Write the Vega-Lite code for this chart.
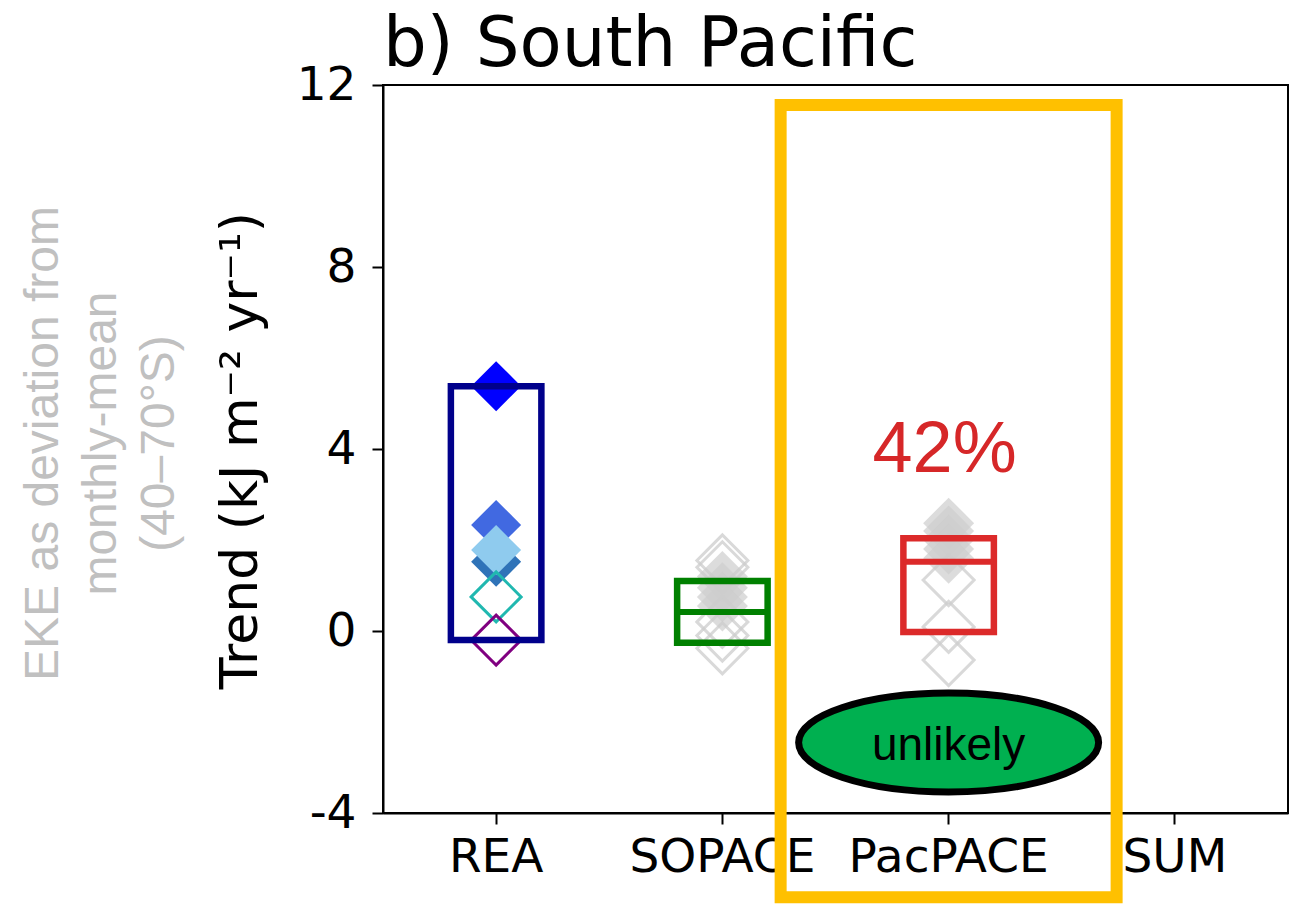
{
  "$schema": "https://vega.github.io/schema/vega-lite/v6.json",
  "width": 905,
  "height": 728,
  "autosize": {"type": "none"},
  "padding": {"left": 383, "top": 85, "right": 3, "bottom": 92},
  "background": "white",
  "config": {
    "view": {"stroke": "black", "strokeWidth": 2},
    "font": "DejaVu Sans",
    "axis": {
      "domainColor": "black", "domainWidth": 2, "tickColor": "black", "tickWidth": 2, "tickSize": 11,
      "labelFont": "DejaVu Sans", "labelFontSize": 47, "labelColor": "black", "grid": false,
      "titleFont": "DejaVu Sans", "titleFontWeight": "normal", "titleColor": "black",
      "labelLimit": 0, "labelOverlap": false
    },
    "axisX": {"labelAngle": 0, "labelPadding": 10}
  },
  "title": {
    "text": "b) South Pacific", "anchor": "start", "frame": "group", "fontSize": 69,
    "font": "DejaVu Sans", "fontWeight": "normal", "color": "black", "baseline": "alphabetic", "offset": 0, "dy": 74
  },
  "datasets": {
    "members": [
      {"experiment": "SOPACE", "member": "S01", "trend": 1.55},
      {"experiment": "SOPACE", "member": "S02", "trend": 1.4},
      {"experiment": "SOPACE", "member": "S03", "trend": 1.2},
      {"experiment": "SOPACE", "member": "S04", "trend": 0.95},
      {"experiment": "SOPACE", "member": "S05", "trend": 0.75},
      {"experiment": "SOPACE", "member": "S06", "trend": 0.55},
      {"experiment": "SOPACE", "member": "S07", "trend": 0.2},
      {"experiment": "SOPACE", "member": "S08", "trend": -0.1},
      {"experiment": "SOPACE", "member": "S09", "trend": -0.38},
      {"experiment": "PacPACE", "member": "P01", "trend": 2.37},
      {"experiment": "PacPACE", "member": "P02", "trend": 2.2},
      {"experiment": "PacPACE", "member": "P03", "trend": 2.0},
      {"experiment": "PacPACE", "member": "P04", "trend": 1.8},
      {"experiment": "PacPACE", "member": "P05", "trend": 1.6},
      {"experiment": "PacPACE", "member": "P06", "trend": 1.12},
      {"experiment": "PacPACE", "member": "P07", "trend": 0.09},
      {"experiment": "PacPACE", "member": "P08", "trend": -0.64},
      {"experiment": "REA", "member": "R1", "trend": 5.38},
      {"experiment": "REA", "member": "R2", "trend": 2.33},
      {"experiment": "REA", "member": "R3", "trend": 1.52},
      {"experiment": "REA", "member": "R4", "trend": 1.78},
      {"experiment": "REA", "member": "R5", "trend": 0.75},
      {"experiment": "REA", "member": "R6", "trend": -0.2}
    ],
    "boxes": [
      {"experiment": "REA", "low": -0.2, "high": 5.38, "median": null},
      {"experiment": "SOPACE", "low": -0.26, "high": 1.1, "median": 0.42},
      {"experiment": "PacPACE", "low": -0.02, "high": 2.04, "median": 1.52}
    ],
    "highlight": [
      {"experiment": "PacPACE", "top": 11.56, "bottom": -5.85, "likelihood": "unlikely", "centre": -2.45, "textline": -2.835, "share": "42%", "shareline": 3.49}
    ]
  },
  "resolve": {"scale": {"y": "independent"}, "axis": {"y": "independent"}},
  "layer": [
    {
      "encoding": {
        "x": {"field": "experiment", "type": "nominal", "scale": {"domain": ["REA", "SOPACE", "PacPACE", "SUM"], "paddingInner": 0, "paddingOuter": 0}, "title": null},
        "y": {
          "field": "trend", "type": "quantitative", "scale": {"domain": [-4, 12], "nice": false},
          "title": "Trend (kJ m⁻² yr⁻¹)",
          "axis": {
            "values": [-4, 0, 4, 8, 12], "labelExpr": "'' + datum.value", "labelPadding": 16, "titleFontSize": 52,
            "titleX": -143, "titleY": 365, "titleAngle": -90, "titleAlign": "center", "titleBaseline": "middle"
          }
        }
      },
      "layer": [
        {
          "data": {"name": "members"},
          "transform": [{"filter": {"field": "member", "oneOf": ["S03", "S04", "S05", "S06", "P01", "P02", "P03", "P04", "P05"]}}],
          "mark": {"type": "point", "shape": "diamond", "filled": true, "size": 2600, "color": "#cdcdcd", "opacity": 0.7}
        },
        {
          "data": {"name": "members"},
          "transform": [{"filter": {"field": "member", "oneOf": ["S01", "S02", "S07", "S08", "S09", "P06", "P07", "P08"]}}],
          "mark": {"type": "point", "shape": "diamond", "filled": false, "size": 2600, "color": "#cdcdcd", "strokeWidth": 3, "opacity": 0.75}
        },
        {
          "data": {"name": "members"},
          "transform": [{"filter": {"field": "member", "oneOf": ["R1", "R2", "R3", "R4"]}}],
          "mark": {"type": "point", "shape": "diamond", "filled": true, "size": 2500, "opacity": 1},
          "encoding": {
            "color": {"field": "member", "type": "nominal", "scale": {"domain": ["R1", "R2", "R3", "R4", "R5", "R6"], "range": ["#0000ff", "#4169e1", "#2f73b8", "#8fcbee", "#20b8b0", "#800080"]}, "legend": null}
          }
        },
        {
          "data": {"name": "members"},
          "transform": [{"filter": {"field": "member", "oneOf": ["R5", "R6"]}}],
          "mark": {"type": "point", "shape": "diamond", "filled": false, "size": 2500, "strokeWidth": 3, "opacity": 1},
          "encoding": {
            "color": {"field": "member", "type": "nominal", "scale": {"domain": ["R1", "R2", "R3", "R4", "R5", "R6"], "range": ["#0000ff", "#4169e1", "#2f73b8", "#8fcbee", "#20b8b0", "#800080"]}, "legend": null}
          }
        },
        {
          "data": {"name": "boxes"},
          "mark": {"type": "bar", "filled": false, "width": {"band": 0.4}, "strokeWidth": 6.5},
          "encoding": {
            "y": {"field": "high", "type": "quantitative", "scale": {"domain": [-4, 12], "nice": false}, "title": "Trend (kJ m⁻² yr⁻¹)"},
            "y2": {"field": "low"},
            "stroke": {"field": "experiment", "type": "nominal", "scale": {"domain": ["REA", "SOPACE", "PacPACE"], "range": ["#00008b", "#008000", "#dc2a2a"]}, "legend": null}
          }
        },
        {
          "data": {"name": "boxes"},
          "mark": {"type": "tick", "orient": "horizontal", "size": 90, "thickness": 6, "opacity": 1},
          "encoding": {
            "y": {"field": "median", "type": "quantitative", "scale": {"domain": [-4, 12], "nice": false}, "title": "Trend (kJ m⁻² yr⁻¹)"},
            "fill": {"field": "experiment", "type": "nominal", "scale": {"domain": ["REA", "SOPACE", "PacPACE"], "range": ["#00008b", "#008000", "#dc2a2a"]}, "legend": null}
          }
        }
      ]
    },
    {
      "mark": {"type": "rule", "color": "black", "strokeWidth": 2.5},
      "encoding": {
        "y": {
          "datum": 0, "type": "quantitative", "scale": {"domain": [-4, 12], "nice": false},
          "axis": {
            "orient": "left", "labels": false, "ticks": false, "domain": false, "grid": false,
            "title": ["EKE as deviation from", "monthly-mean", "(40–70°S)"],
            "titleColor": "#c0c0c0", "titleFont": "Liberation Sans", "titleFontSize": 48, "titleLineHeight": 58,
            "titleX": -340, "titleY": 358, "titleAngle": -90, "titleAlign": "center", "titleBaseline": "middle"
          }
        }
      }
    },
    {
      "data": {"name": "highlight"},
      "encoding": {
        "x": {"field": "experiment", "type": "nominal", "scale": {"domain": ["REA", "SOPACE", "PacPACE", "SUM"], "paddingInner": 0, "paddingOuter": 0}, "title": null}
      },
      "layer": [
        {
          "mark": {"type": "text", "font": "Liberation Sans", "fontSize": 72, "color": "#d62728", "align": "center", "baseline": "alphabetic", "dx": -4},
          "encoding": {
            "y": {"field": "shareline", "type": "quantitative", "scale": {"domain": [-4, 12], "nice": false}, "axis": null},
            "text": {"field": "share"}
          }
        },
        {
          "mark": {"type": "bar", "filled": false, "width": {"band": 1.485}, "color": "#ffc000", "strokeWidth": 12},
          "encoding": {
            "y": {"field": "top", "type": "quantitative", "scale": {"domain": [-4, 12], "nice": false}, "axis": null},
            "y2": {"field": "bottom"}
          }
        },
        {
          "mark": {"type": "point", "shape": "M -1 0 A 1 0.33 0 1 0 1 0 A 1 0.33 0 1 0 -1 0 Z", "filled": true, "size": 90000, "fill": "#00b050", "stroke": "black", "strokeWidth": 7, "opacity": 1},
          "encoding": {
            "y": {"field": "centre", "type": "quantitative", "scale": {"domain": [-4, 12], "nice": false}, "axis": null}
          }
        },
        {
          "mark": {"type": "text", "font": "Liberation Sans", "fontSize": 46, "color": "black", "align": "center", "baseline": "alphabetic"},
          "encoding": {
            "y": {"field": "textline", "type": "quantitative", "scale": {"domain": [-4, 12], "nice": false}, "axis": null},
            "text": {"field": "likelihood"}
          }
        }
      ]
    }
  ]
}
